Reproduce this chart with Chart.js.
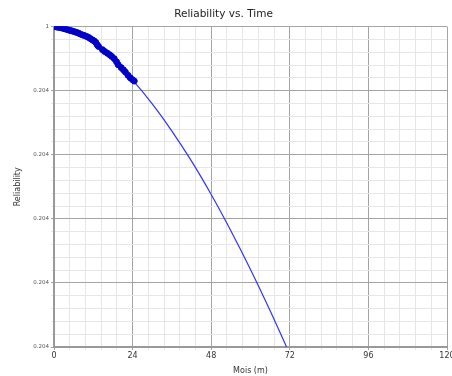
<!DOCTYPE html>
<html>
<head>
<meta charset="utf-8">
<script src="https://cdn.jsdelivr.net/npm/chart.js@4"></script>
<style>
  html, body { margin: 0; padding: 0; background: #fff; }
  #wrap { width: 452px; height: 376px; }
</style>
</head>
<body>
<div id="wrap"><canvas id="graphicR"></canvas></div>
<script>
// observed failure points (months, reliability)
const obsTime = [0.2, 0.7, 1.1, 1.6, 2.1, 2.6, 3.2, 3.7, 4.3, 4.9, 5.5, 6.1, 6.8, 7.4, 8.0, 8.7,
                 9.3, 10.0, 10.6, 11.2, 11.8, 12.3, 12.8, 13.2, 13.6, 14.8, 15.5, 16.3, 17.0,
                 17.6, 18.4, 19.1, 19.6, 20.5, 21.2, 21.8, 22.6, 23.3, 24.0, 24.5];
const obsRel = [1.0, 0.99999, 0.999985, 0.999975, 0.999965, 0.99995, 0.999935, 0.99992, 0.9999,
                0.99988, 0.999865, 0.999845, 0.99982, 0.9998, 0.99977, 0.99974, 0.99972, 0.99969,
                0.99966, 0.99962, 0.99958, 0.99955, 0.9995, 0.99943, 0.99938, 0.99928, 0.99922,
                0.99917, 0.99912, 0.99907, 0.999, 0.9989, 0.99881, 0.99872, 0.99865, 0.99858,
                0.99848, 0.9984, 0.99834, 0.9983];

// fitted curve
const fitTime = [0, 6, 12, 18, 24, 30, 36, 42, 48, 54, 60, 66, 71];
const fitRel = [1, 0.99983, 0.99947, 0.99896, 0.99833, 0.99759, 0.99674, 0.99580, 0.99476,
                0.99363, 0.99242, 0.99113, 0.99];

const xTickLabels = ['0', '24', '48', '72', '96', '120'];
const yTickLabels = ['0.204', '0.204', '0.204', '0.204', '0.204', '1'];

const canvasR = document.getElementById('graphicR');

const majorGrid = (ctx) => (ctx.index % 5 === 0 ? '#a4a4a4' : '#e6e6e6');

new Chart(canvasR, {
    type: 'scatter',
    data: {
        datasets: [{
            label: 'Observed',
            data: obsTime.map((t, i) => ({ x: t, y: obsRel[i] })),
            backgroundColor: 'rgb(0, 0, 200)',
            borderColor: 'rgb(0, 0, 200)',
            pointRadius: 3,
            order: 1
        }, {
            label: 'Fit',
            type: 'line',
            data: fitTime.map((t, i) => ({ x: t, y: fitRel[i] })),
            borderColor: 'rgb(50, 50, 255)',
            borderWidth: 1.2,
            pointRadius: 0,
            cubicInterpolationMode: 'monotone',
            fill: false,
            order: 2
        }]
    },
    options: {
        responsive: true,
        maintainAspectRatio: false,
        animation: false,
        layout: { padding: { left: 0, right: 5, top: 0, bottom: 0 } },
        plugins: {
            legend: { display: false },
            tooltip: { enabled: false },
            title: {
                display: true,
                text: 'Reliability vs. Time',
                color: '#222',
                font: { family: 'DejaVu Sans', size: 10.5, weight: 'normal' },
                padding: { top: 8, bottom: 6 }
            }
        },
        scales: {
            x: {
                type: 'linear',
                min: 0,
                max: 120,
                afterFit: (scale) => { scale.paddingRight = 0; scale.height = 29; },
                ticks: {
                    stepSize: 4.8,
                    autoSkip: false,
                    maxRotation: 0,
                    padding: 1,
                    color: '#333',
                    font: { family: 'DejaVu Sans', size: 8 },
                    callback: (v, i) => (i % 5 === 0 ? xTickLabels[i / 5] : '')
                },
                grid: { color: majorGrid, drawTicks: true, tickLength: 3, tickColor: majorGrid },
                border: { color: '#999', width: 2 },
                title: {
                    display: true,
                    text: 'Mois (m)',
                    color: '#333',
                    font: { family: 'DejaVu Sans', size: 8 },
                    padding: { top: 2, bottom: 0 }
                }
            },
            y: {
                type: 'linear',
                min: 0.99,
                max: 1,
                afterFit: (scale) => { scale.width = 54; },
                ticks: {
                    stepSize: 0.0004,
                    autoSkip: false,
                    padding: 2,
                    color: '#555',
                    font: { family: 'DejaVu Sans', size: 5.5 },
                    callback: (v, i) => (i % 5 === 0 ? yTickLabels[i / 5] : '')
                },
                grid: { color: majorGrid, tickLength: 3, tickColor: majorGrid },
                border: { color: '#999', width: 2 },
                title: {
                    display: true,
                    text: 'Reliability',
                    color: '#333',
                    font: { family: 'DejaVu Sans', size: 8 },
                    padding: { top: 13, bottom: 4 }
                }
            }
        }
    }
});
</script>
</body>
</html>
